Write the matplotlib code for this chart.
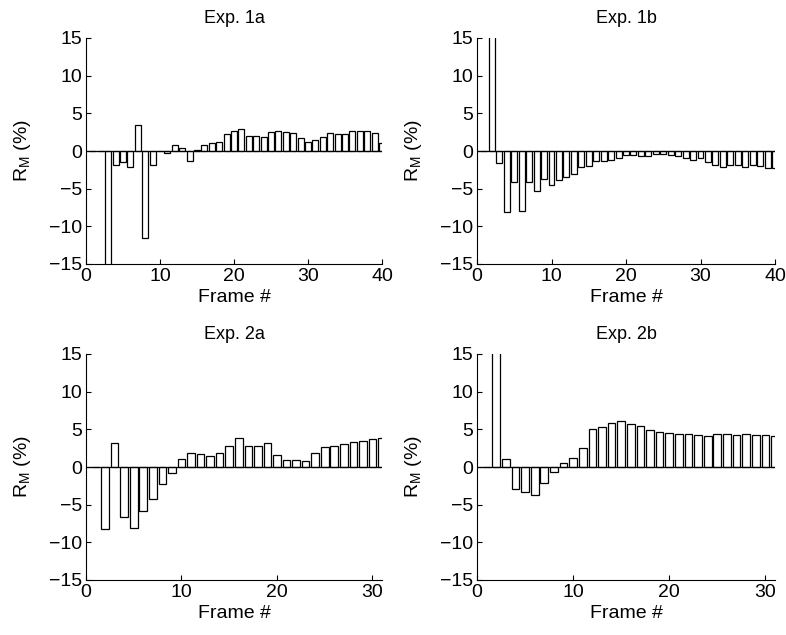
import numpy as np
import matplotlib
matplotlib.use("Agg")
import matplotlib.pyplot as plt

plt.rcParams['font.family'] = ['Liberation Sans', 'DejaVu Sans']

# Frame indices
frames_1 = list(range(1, 41))
frames_2 = list(range(1, 32))

# R_M (%) per frame; bars beyond the +/-15 range are clipped by the axes
exp_1a = [0, 0, -25, -1.9, -1.4, -2.1, 3.4, -11.6, -1.8, 0,
          -0.3, 0.75, 0.45, -1.35, 0.1, 0.8, 1.0, 1.25, 2.2, 2.6,
          2.95, 2.0, 2.0, 1.9, 2.55, 2.7, 2.5, 2.4, 1.75, 1.15,
          1.5, 1.9, 2.45, 2.2, 2.2, 2.6, 2.6, 2.7, 2.45, 1.0]
exp_1b = [0, 25, -1.6, -8.05, -4.06, -8.0, -4.15, -5.3, -3.75, -4.46,
          -3.8, -3.4, -3.08, -2.14, -2.0, -1.35, -1.3, -1.15, -0.95, -0.5,
          -0.5, -0.6, -0.7, -0.45, -0.35, -0.5, -0.7, -0.95, -1.2, -0.95,
          -1.5, -1.85, -2.15, -1.9, -1.9, -2.1, -1.85, -2.05, -2.2, -2.3]
exp_2a = [0, -8.2, 3.2, -6.7, -8.05, -5.8, -4.3, -2.2, -0.75, 1.0,
          1.87, 1.78, 1.44, 1.88, 2.8, 3.85, 2.8, 2.8, 3.2, 1.6,
          0.93, 0.93, 0.8, 1.9, 2.65, 2.83, 3.1, 3.3, 3.45, 3.67, 3.9]
exp_2b = [0, 25, 1.07, -2.93, -3.38, -3.78, -2.13, -0.67, 0.5, 1.25,
          2.5, 5.1, 5.36, 5.8, 6.1, 5.7, 5.5, 4.9, 4.7, 4.46,
          4.33, 4.38, 4.29, 4.15, 4.33, 4.33, 4.29, 4.33, 4.29, 4.2, 4.15]

titles = ["Exp. 1a", "Exp. 1b", "Exp. 2a", "Exp. 2b"]
xticks_1 = [0, 10, 20, 30, 40]
xticks_2 = [0, 10, 20, 30]
yticks = [-15, -10, -5, 0, 5, 10, 15]

W, H = 786, 635
fig = plt.figure(figsize=(W / 100, H / 100), dpi=100)

# axes boxes in pixels: (left, top, width, height)
boxes = [(86, 38, 296, 226), (477, 38, 298, 226),
         (86, 354, 296, 226), (477, 354, 298, 226)]
panels = [(frames_1, exp_1a, 40, xticks_1),
          (frames_1, exp_1b, 40, xticks_1),
          (frames_2, exp_2a, 31, xticks_2),
          (frames_2, exp_2b, 31, xticks_2)]

for (l, t, w, h), (x, y, xmax, xt), title in zip(boxes, panels, titles):
    ax = fig.add_axes([l / W, 1 - (t + h) / H, w / W, h / H])
    ax.bar(x, y, width=0.8, color='white', edgecolor='black',
           linewidth=0.9, zorder=2)
    ax.axhline(0, color='black', linewidth=0.9, zorder=3)
    ax.set_xlim(0, xmax)
    ax.set_ylim(-15, 15)
    ax.set_xticks(xt)
    ax.set_yticks(yticks)
    ax.spines['top'].set_visible(False)
    ax.spines['right'].set_visible(False)
    ax.spines['left'].set_linewidth(0.8)
    ax.spines['bottom'].set_linewidth(0.8)
    ax.tick_params(direction='in', length=3.5, width=0.8, labelsize=14, pad=3)
    ax.set_title(title, fontsize=13, pad=10.5)
    ax.set_xlabel("Frame #", fontsize=14, labelpad=3)
    ax.set_ylabel(r"R$_\mathregular{M}$ (%)", fontsize=14, labelpad=11)

fig.savefig("out.png", dpi=100)
